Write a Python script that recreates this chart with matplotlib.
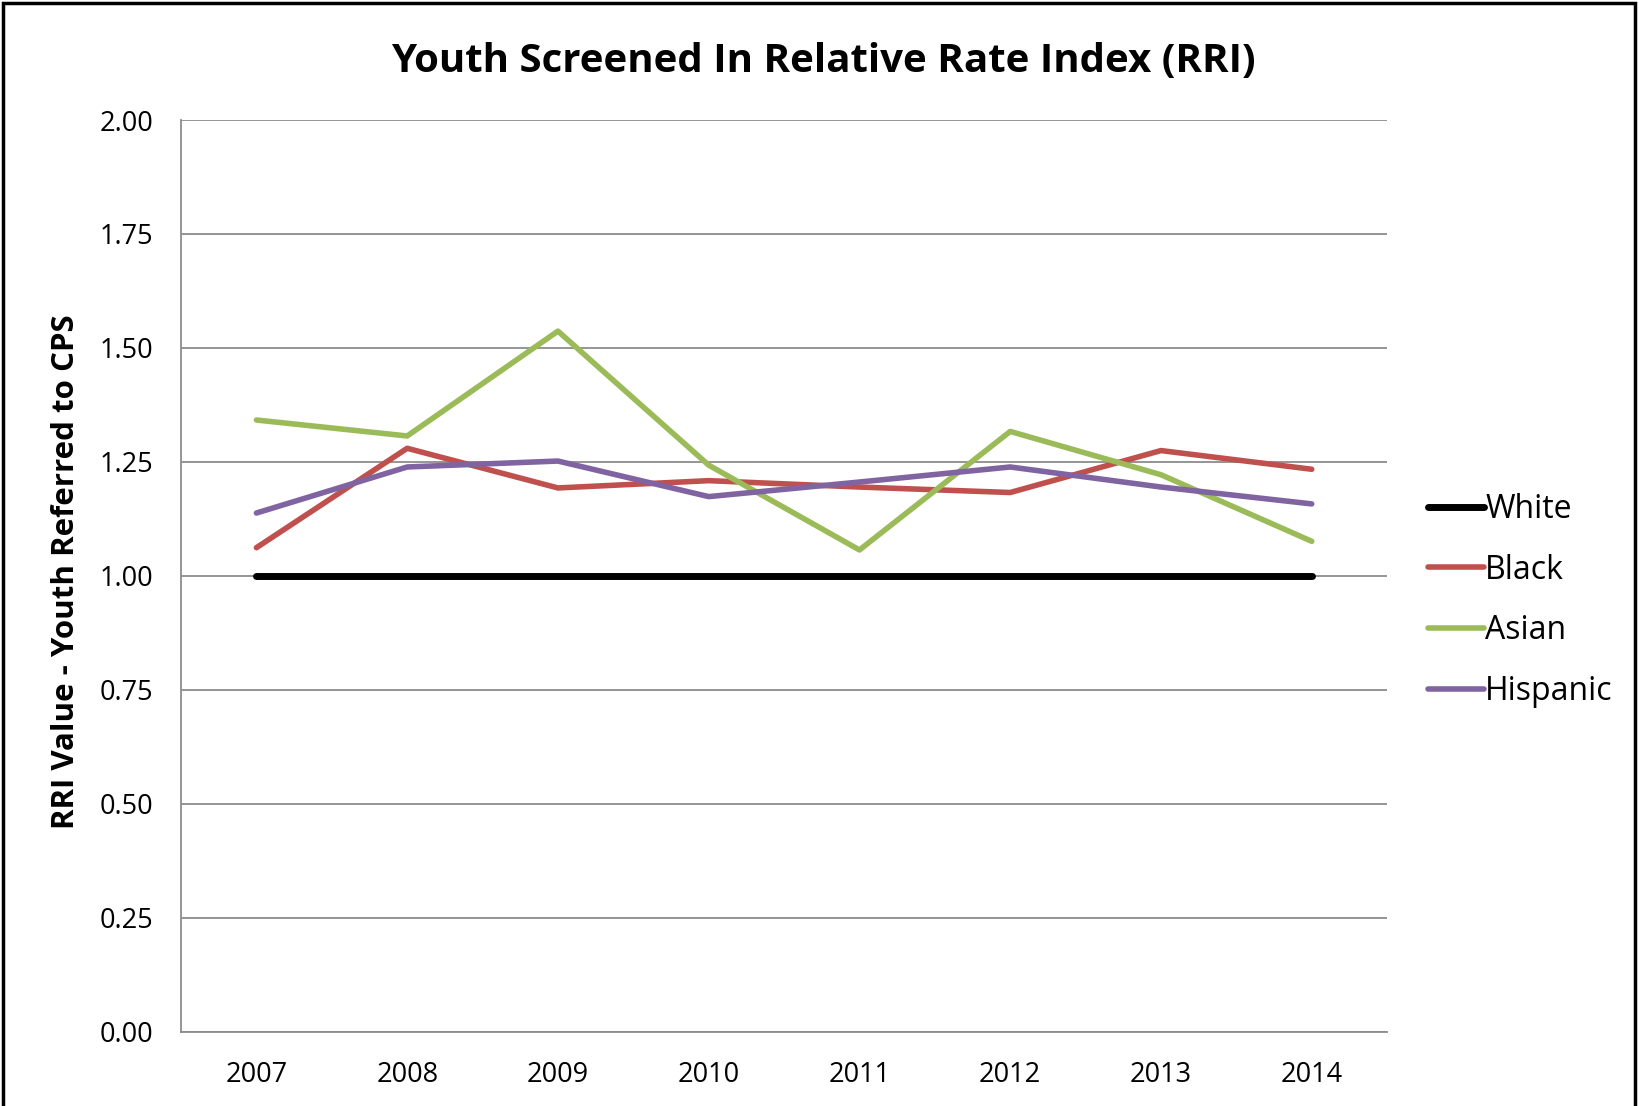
import matplotlib
matplotlib.use("Agg")
import matplotlib.pyplot as plt
from matplotlib.patches import Rectangle

plt.rcParams['font.family'] = ['Open Sans', 'DejaVu Sans']

years = ["2007", "2008", "2009", "2010", "2011", "2012", "2013", "2014"]
white = [1.00, 1.00, 1.00, 1.00, 1.00, 1.00, 1.00, 1.00]
black = [1.062, 1.280, 1.193, 1.209, 1.195, 1.183, 1.275, 1.234]
asian = [1.342, 1.307, 1.537, 1.243, 1.057, 1.317, 1.222, 1.076]
hispanic = [1.138, 1.239, 1.252, 1.174, 1.206, 1.239, 1.195, 1.158]

series = [("White", white, "#000000", 5.0),
          ("Black", black, "#C0504D", 4.0),
          ("Asian", asian, "#9BBB59", 4.0),
          ("Hispanic", hispanic, "#8064A2", 4.0)]

fig = plt.figure(figsize=(16.4, 11.06), dpi=100)
ax = fig.add_axes([0.1104, 0.067, 0.7354, 0.8245])

x = range(len(years))
for name, vals, col, lw in series:
    ax.plot(x, vals, color=col, linewidth=lw, solid_capstyle="round", label=name)

ax.set_xlim(-0.5, len(years) - 0.5)
ax.set_ylim(0, 2.0)
ax.set_xticks(list(x))
ax.set_xticklabels(years)
yt = [0, 0.25, 0.5, 0.75, 1.0, 1.25, 1.5, 1.75, 2.0]
ax.set_yticks(yt)
ax.set_yticklabels(["%.2f" % v for v in yt])
ax.tick_params(length=0, labelsize=19.5, pad=20)
ax.tick_params(axis="x", pad=21)
ax.grid(axis="y", color="#8C8C8C", linewidth=1.3)
ax.set_axisbelow(True)
for s in ["top", "right"]:
    ax.spines[s].set_visible(False)
ax.spines["left"].set_color("#8C8C8C")
ax.spines["left"].set_linewidth(1.3)
ax.spines["bottom"].set_color("#8C8C8C")
ax.spines["bottom"].set_linewidth(1.3)

ax.set_ylabel("RRI Value - Youth Referred to CPS", fontsize=22.5, fontweight="bold")
ax.yaxis.set_label_coords(-0.083, 0.505)
fig.text(0.502, 0.9446, "Youth Screened In Relative Rate Index (RRI)",
         ha="center", va="center", fontsize=29, fontweight="bold")

fig.legend(loc="center left", bbox_to_anchor=(0.8533, 0.457), frameon=False,
           fontsize=23, handlelength=1.74, handletextpad=0.05, labelspacing=0.87)

fig.add_artist(Rectangle((0.002, -0.1), 0.995, 1.097, transform=fig.transFigure,
                         fill=False, edgecolor="black", linewidth=2.5))

fig.savefig("out.png", dpi=100)
